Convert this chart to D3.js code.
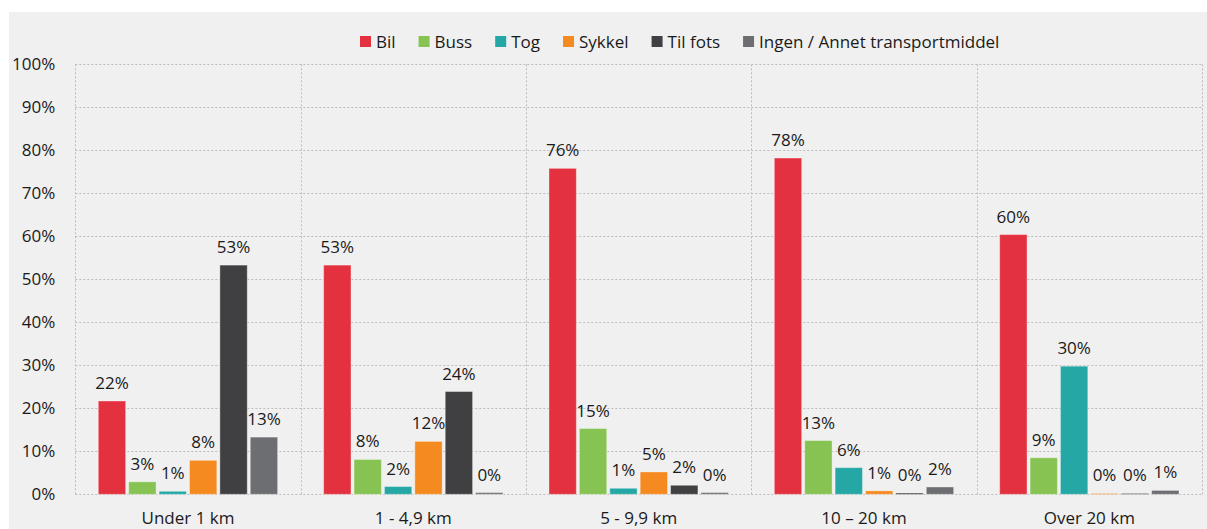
<!DOCTYPE html>
<html>
<head>
<meta charset="utf-8">
<script src="https://cdn.jsdelivr.net/npm/d3@7"></script>
<style>
  html, body { margin: 0; padding: 0; background: #ffffff; }
  svg { display: block; }
  text { font-family: "Open Sans", "Noto Sans", sans-serif; fill: #1a1a1a; }
</style>
</head>
<body>
<svg id="chart" width="1207" height="529"></svg>
<script>
// ---- data ----
const categories = ["Under 1 km", "1 - 4,9 km", "5 - 9,9 km", "10 \u2013 20 km", "Over 20 km"];
const seriesNames = ["Bil", "Buss", "Tog", "Sykkel", "Til fots", "Ingen / Annet transportmiddel"];
const bil     = [21.7, 53.3, 75.8, 78.2, 60.4];
const buss    = [2.9, 8.1, 15.3, 12.5, 8.5];
const tog     = [0.7, 1.8, 1.4, 6.2, 29.8];
const sykkel  = [7.9, 12.3, 5.2, 0.8, 0.2];
const tilFots = [53.3, 23.9, 2.1, 0.3, 0.2];
const ingen   = [13.3, 0.4, 0.4, 1.7, 0.9];
const yTicks  = [0, 10, 20, 30, 40, 50, 60, 70, 80, 90, 100];
const colors  = ["#e4313f", "#86c352", "#25a8a5", "#f58a21", "#404042", "#6d6e71"];

const seriesValues = [bil, buss, tog, sykkel, tilFots, ingen];

// ---- layout ----
const svg = d3.select("#chart");
const W = 1207, H = 529;
const plot = { left: 75.3, right: 1202, top: 64.3, bottom: 494.3 };

svg.append("rect").attr("x", 9).attr("y", 12).attr("width", W - 9).attr("height", H - 12)
   .attr("fill", "#f0f0f0");

const x0 = d3.scaleBand().domain(categories).range([plot.left, plot.right]).padding(0);
const x1 = d3.scaleBand().domain(seriesNames).range([0, x0.bandwidth()])
   .paddingInner(0.1).paddingOuter(0.757);
const y = d3.scaleLinear().domain([0, 100]).range([plot.bottom, plot.top]);

// gridlines
const grid = svg.append("g").attr("stroke", "#bdbdbd").attr("stroke-width", 1)
   .attr("stroke-dasharray", "2,2").attr("fill", "none");
grid.selectAll("line.h").data(yTicks).join("line").attr("class", "h")
   .attr("x1", plot.left).attr("x2", plot.right)
   .attr("y1", d => Math.round(y(d)) + 0.5).attr("y2", d => Math.round(y(d)) + 0.5);
const vlines = categories.map(c => x0(c)).concat([plot.right]);
grid.selectAll("line.v").data(vlines).join("line").attr("class", "v")
   .attr("x1", d => Math.round(d) + 0.5).attr("x2", d => Math.round(d) + 0.5)
   .attr("y1", plot.top).attr("y2", plot.bottom);

// y axis labels
const yAxis = d3.axisLeft(y).tickValues(yTicks).tickFormat(d => d + "%").tickSize(0).tickPadding(20);
const ya = svg.append("g").attr("transform", `translate(${plot.left},0)`).call(yAxis);
ya.select(".domain").remove();
ya.selectAll("text").attr("font-size", 17).attr("fill", "#1a1a1a")
   .attr("font-family", "'Open Sans', sans-serif");

// x axis labels
const xAxis = d3.axisBottom(x0).tickSize(0).tickPadding(0);
const xa = svg.append("g").attr("transform", `translate(0,${plot.bottom})`).call(xAxis);
xa.select(".domain").remove();
xa.selectAll("text").attr("font-size", 17).attr("fill", "#1a1a1a")
   .attr("font-family", "'Open Sans', sans-serif")
   .attr("dy", null).attr("y", 29.5);

// bars
const data = [];
categories.forEach((c, ci) => {
  seriesNames.forEach((s, si) => {
    data.push({ cat: c, series: s, value: seriesValues[si][ci], color: colors[si] });
  });
});

const bars = svg.append("g");
bars.selectAll("rect").data(data).join("rect")
   .attr("x", d => x0(d.cat) + x1(d.series))
   .attr("width", x1.bandwidth())
   .attr("y", d => y(d.value))
   .attr("height", d => Math.max(0.8, y(0) - y(d.value)))
   .attr("fill", d => d.color)
   .attr("stroke", "rgba(255,255,255,0.35)")
   .attr("stroke-width", 1);

// value labels
svg.append("g").selectAll("text").data(data).join("text")
   .attr("x", d => x0(d.cat) + x1(d.series) + x1.bandwidth() / 2)
   .attr("y", d => y(d.value) - 12)
   .attr("text-anchor", "middle")
   .attr("font-size", 17)
   .text(d => Math.round(d.value) + "%");

// legend
const legend = svg.append("g").attr("transform", "translate(360,0)");
let lx = 0;
seriesNames.forEach((s, i) => {
  const g = legend.append("g").attr("transform", `translate(${lx},0)`);
  g.append("rect").attr("x", 0).attr("y", 36).attr("width", 11).attr("height", 11).attr("fill", colors[i]);
  const t = g.append("text").attr("x", 16).attr("y", 47.5).attr("font-size", 17).text(s);
  lx += 16 + t.node().getComputedTextLength() + 23;
});
</script>
</body>
</html>
